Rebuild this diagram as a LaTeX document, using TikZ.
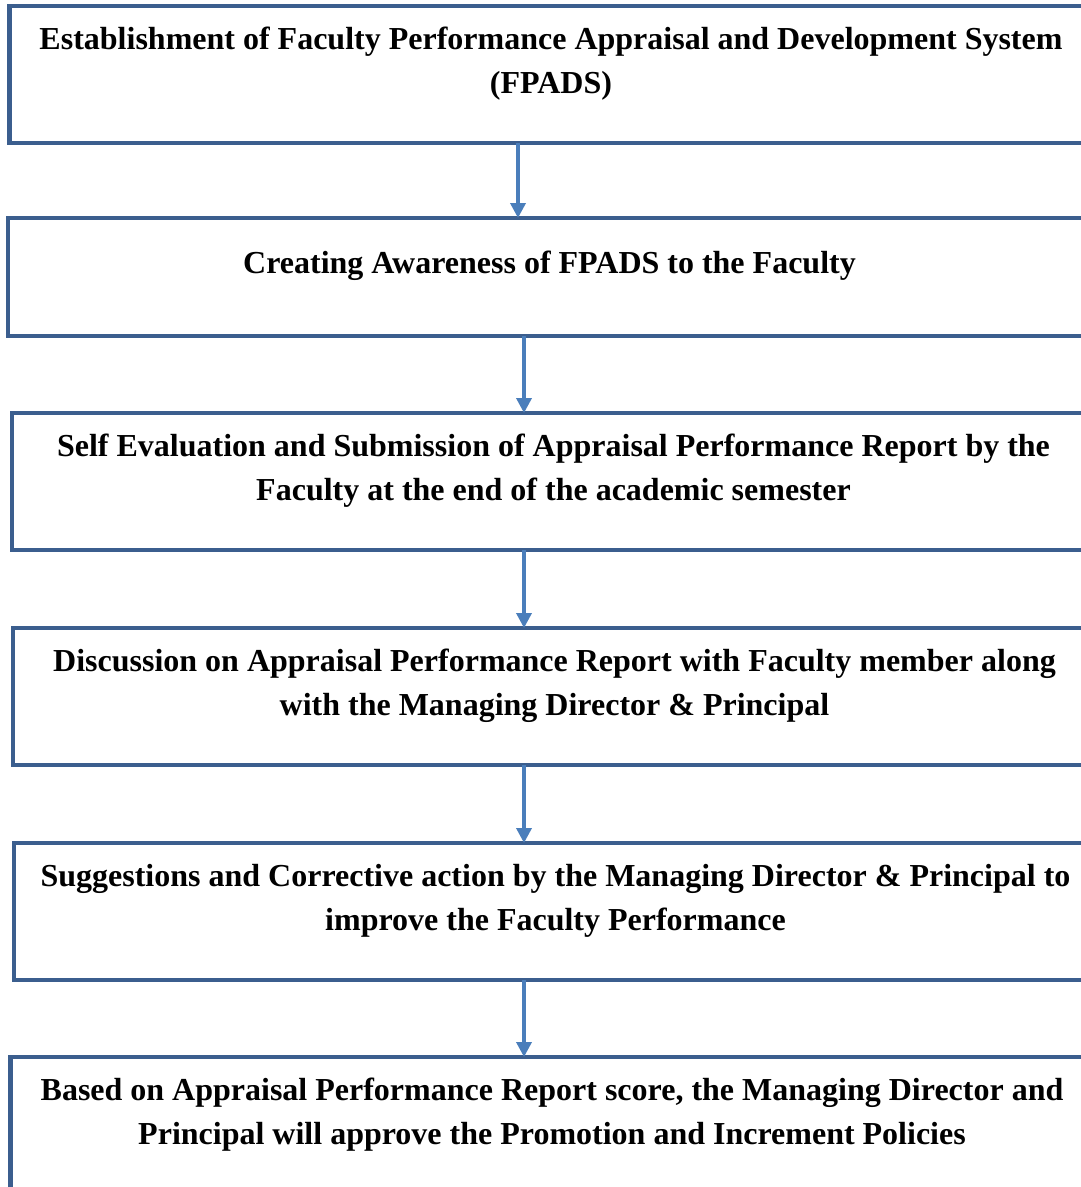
\documentclass[tikz,border=0pt]{standalone}
\usepackage{fontspec}
\setmainfont{Liberation Serif}
\usetikzlibrary{arrows.meta}
\definecolor{boxblue}{HTML}{3B5E8E}
\definecolor{arrowblue}{HTML}{4A7EBB}

\begin{document}
\begin{tikzpicture}[x=1pt,y=-1pt,
    stepbox/.style={draw=boxblue, line width=4.5pt, rectangle, inner sep=0pt, outer sep=0pt,
      minimum width=1083pt, minimum height=137pt, anchor=north west},
    steptext/.style={anchor=base, align=center, inner sep=0pt,
      font=\fontsize{32}{44}\selectfont\bfseries},
    flow/.style={draw=arrowblue, line width=3.5pt, -{Triangle[width=15pt,length=15pt]}}]
    \clip (0,0) rectangle (1081,1187);
    \node[stepbox] (s1) at (9.5,6) {};
    \node[stepbox, minimum height=118pt] (s2) at (8,218) {};
    \node[stepbox] (s3) at (12,413) {};
    \node[stepbox] (s4) at (13,628) {};
    \node[stepbox] (s5) at (14,843) {};
    \node[stepbox, minimum height=200pt] (s6) at (10.5,1057) {};

    % base anchor sits on the last line, so two-line texts go one line lower
    \node[steptext] (t1) at ([yshift=-87pt]s1.north) {Establishment of Faculty Performance Appraisal and Development System\\(FPADS)};
    \node[steptext] (t2) at ([yshift=-55pt]s2.north) {Creating Awareness of FPADS to the Faculty};
    \node[steptext] (t3) at ([yshift=-87pt]s3.north) {Self Evaluation and Submission of Appraisal Performance Report by the\\Faculty at the end of the academic semester};
    \node[steptext] (t4) at ([yshift=-87pt]s4.north) {Discussion on Appraisal Performance Report with Faculty member along\\with the Managing Director \& Principal};
    \node[steptext] (t5) at ([yshift=-87pt]s5.north) {Suggestions and Corrective action by the Managing Director \& Principal to\\improve the Faculty Performance};
    \node[steptext] (t6) at ([yshift=-87pt]s6.north) {Based on Appraisal Performance Report score, the Managing Director and\\Principal will approve the Promotion and Increment Policies};

    \coordinate (a1) at ([xshift=-33pt]s1.south);
    \coordinate (a2) at ([xshift=-25.5pt]s2.south);
    \coordinate (a3) at ([xshift=-29.5pt]s3.south);
    \coordinate (a4) at ([xshift=-30.5pt]s4.south);
    \coordinate (a5) at ([xshift=-31.5pt]s5.south);
    \draw[flow] (a1) -- (a1 |- s2.north);
    \draw[flow] (a2) -- (a2 |- s3.north);
    \draw[flow] (a3) -- (a3 |- s4.north);
    \draw[flow] (a4) -- (a4 |- s5.north);
    \draw[flow] (a5) -- (a5 |- s6.north);
\end{tikzpicture}
\end{document}
